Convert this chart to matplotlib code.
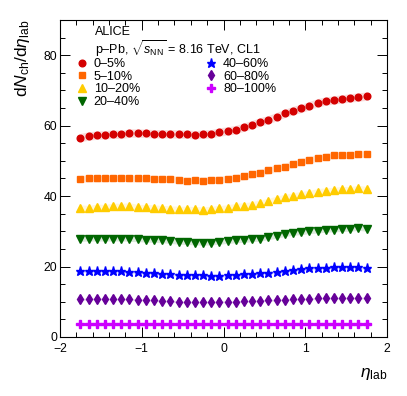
import numpy as np
import matplotlib
matplotlib.use('Agg')
from matplotlib import pyplot as plt
from matplotlib.ticker import MultipleLocator

plt.rcParams['font.family'] = ['Liberation Sans', 'DejaVu Sans']
plt.rcParams['mathtext.fontset'] = 'custom'
plt.rcParams['mathtext.rm'] = 'Liberation Sans'
plt.rcParams['mathtext.it'] = 'Liberation Sans:italic'

#%% data
eta = np.round(np.arange(-1.75, 1.76, 0.1), 2)

labels = ['0\u20135%', '5\u201310%', '10\u201320%', '20\u201340%',
          '40\u201360%', '60\u201380%', '80\u2013100%']

c0_5 = [56.6, 57.1, 57.3, 57.4, 57.6, 57.5, 57.9, 57.9, 57.8, 57.7, 57.7, 57.7,
        57.6, 57.6, 57.4, 57.6, 57.7, 58.2, 58.5, 58.9, 59.6, 60.3, 61.1, 61.7,
        62.6, 63.5, 64.3, 64.9, 65.7, 66.5, 67.0, 67.3, 67.6, 67.9, 68.1, 68.4]
c5_10 = [44.9, 45.0, 45.0, 45.0, 45.1, 45.2, 45.0, 45.0, 45.0, 44.9, 44.9, 44.9,
         44.6, 44.3, 44.5, 44.4, 44.6, 44.7, 44.9, 45.2, 45.6, 46.2, 46.7, 47.3,
         48.0, 48.4, 49.1, 49.8, 50.3, 50.8, 51.2, 51.6, 51.6, 51.7, 51.9, 52.0]
c10_20 = [36.7, 36.5, 36.9, 36.8, 37.2, 37.1, 37.3, 36.8, 36.8, 36.7, 36.5, 36.4,
          36.3, 36.3, 36.2, 36.1, 36.3, 36.5, 36.7, 37.1, 37.3, 37.6, 38.1, 38.5,
          39.2, 39.7, 40.1, 40.5, 40.8, 41.3, 41.5, 41.7, 41.9, 41.9, 42.2, 41.9]
c20_40 = [27.8, 27.9, 27.9, 27.9, 27.9, 27.95, 27.8, 27.7, 27.6, 27.5, 27.4, 27.2,
          27.0, 26.9, 26.8, 26.7, 26.8, 27.0, 27.2, 27.4, 27.5, 27.7, 27.9, 28.3,
          28.7, 29.2, 29.5, 29.7, 30.0, 30.2, 30.4, 30.5, 30.6, 30.7, 30.9, 30.7]
c40_60 = [18.7, 18.8, 18.8, 18.7, 18.7, 18.6, 18.5, 18.4, 18.3, 18.2, 17.9, 17.85,
          17.7, 17.6, 17.5, 17.5, 17.4, 17.4, 17.5, 17.6, 17.75, 17.9, 18.1, 18.3,
          18.5, 18.7, 19.0, 19.2, 19.5, 19.55, 19.7, 19.9, 19.9, 19.8, 19.8, 19.6]
c60_80 = [10.7, 10.75, 10.85, 10.85, 10.75, 10.75, 10.7, 10.6, 10.5, 10.4, 10.2, 10.2,
          10.0, 9.9, 9.9, 9.9, 9.9, 10.0, 10.0, 10.0, 10.1, 10.2, 10.3, 10.4,
          10.5, 10.6, 10.7, 10.75, 10.85, 10.95, 11.05, 11.05, 11.05, 11.1, 11.05, 11.1]
c80_100 = [3.7, 3.7, 3.7, 3.7, 3.7, 3.7, 3.7, 3.65, 3.65, 3.6, 3.6, 3.6,
           3.55, 3.55, 3.55, 3.55, 3.55, 3.55, 3.55, 3.55, 3.55, 3.55, 3.6, 3.6,
           3.6, 3.6, 3.65, 3.65, 3.65, 3.7, 3.7, 3.7, 3.7, 3.7, 3.7, 3.7]

# systematic band half-widths
sys_err = [1.2, 1.0, 0.85, 0.65, 0.45, 0.3, 0.15]

series = [c0_5, c5_10, c10_20, c20_40, c40_60, c60_80, c80_100]
colors = ['#d40000', '#ff6600', '#ffcc00', '#006600', '#0000ff', '#660099', '#cc00ff']
markers = ['o', 's', '^', 'v', '*', 'd', 'P']
msizes = [4.8, 4.5, 5.2, 5.2, 6.6, 5.2, 5.4]

#%% plot
fig = plt.figure(figsize=(4.07, 3.96), dpi=100)
ax = fig.add_axes([0.1474, 0.149, 0.8036, 0.8005])

handles = []
for y, s, c, m, ms in zip(series, sys_err, colors, markers, msizes):
    y = np.array(y)
    ax.fill_between(eta, y - s, y + s, color=c, alpha=0.14, lw=0)
    h, = ax.plot(eta, y, ls='none', marker=m, ms=ms, color=c, mec=c)
    handles.append(h)

ax.set_xlim(-2, 2)
ax.set_ylim(0, 90)
ax.xaxis.set_major_locator(MultipleLocator(1))
ax.xaxis.set_minor_locator(MultipleLocator(0.2))
ax.yaxis.set_major_locator(MultipleLocator(20))
ax.yaxis.set_minor_locator(MultipleLocator(5))
ax.tick_params(which='both', direction='in', top=True, right=True,
               labelsize=8.8, width=0.7, pad=2)
ax.tick_params(axis='x', pad=4)
ax.tick_params(which='major', length=7)
ax.tick_params(which='minor', length=3.5)
ax.set_xticks([-2, -1, 0, 1, 2])
ax.set_xticklabels(['\u22122', '\u22121', '0', '1', '2'])
for sp in ax.spines.values():
    sp.set_linewidth(0.8)

ax.set_ylabel(r'd$N_{\rm ch}$/d$\eta_{\rm lab}$', fontsize=12.5, loc='top', labelpad=8)
ax.set_xlabel(r'$\eta_{\rm lab}$', fontsize=12.5, loc='right', labelpad=8)

ax.text(0.108, 0.952, 'ALICE', transform=ax.transAxes, fontsize=9, va='baseline')
ax.text(0.108, 0.893, 'p\u2013Pb, $\\sqrt{s_{\\rm NN}}$ = 8.16 TeV, CL1',
        transform=ax.transAxes, fontsize=9, va='baseline')

leg = ax.legend(handles, labels, ncol=2, loc='upper left',
                bbox_to_anchor=(0.04, 0.888), frameon=False, fontsize=9,
                labelspacing=0.05, handlelength=1.0, handletextpad=0.45,
                columnspacing=5.2, borderaxespad=0, borderpad=0.2)

fig.savefig('out.png', dpi=100)
